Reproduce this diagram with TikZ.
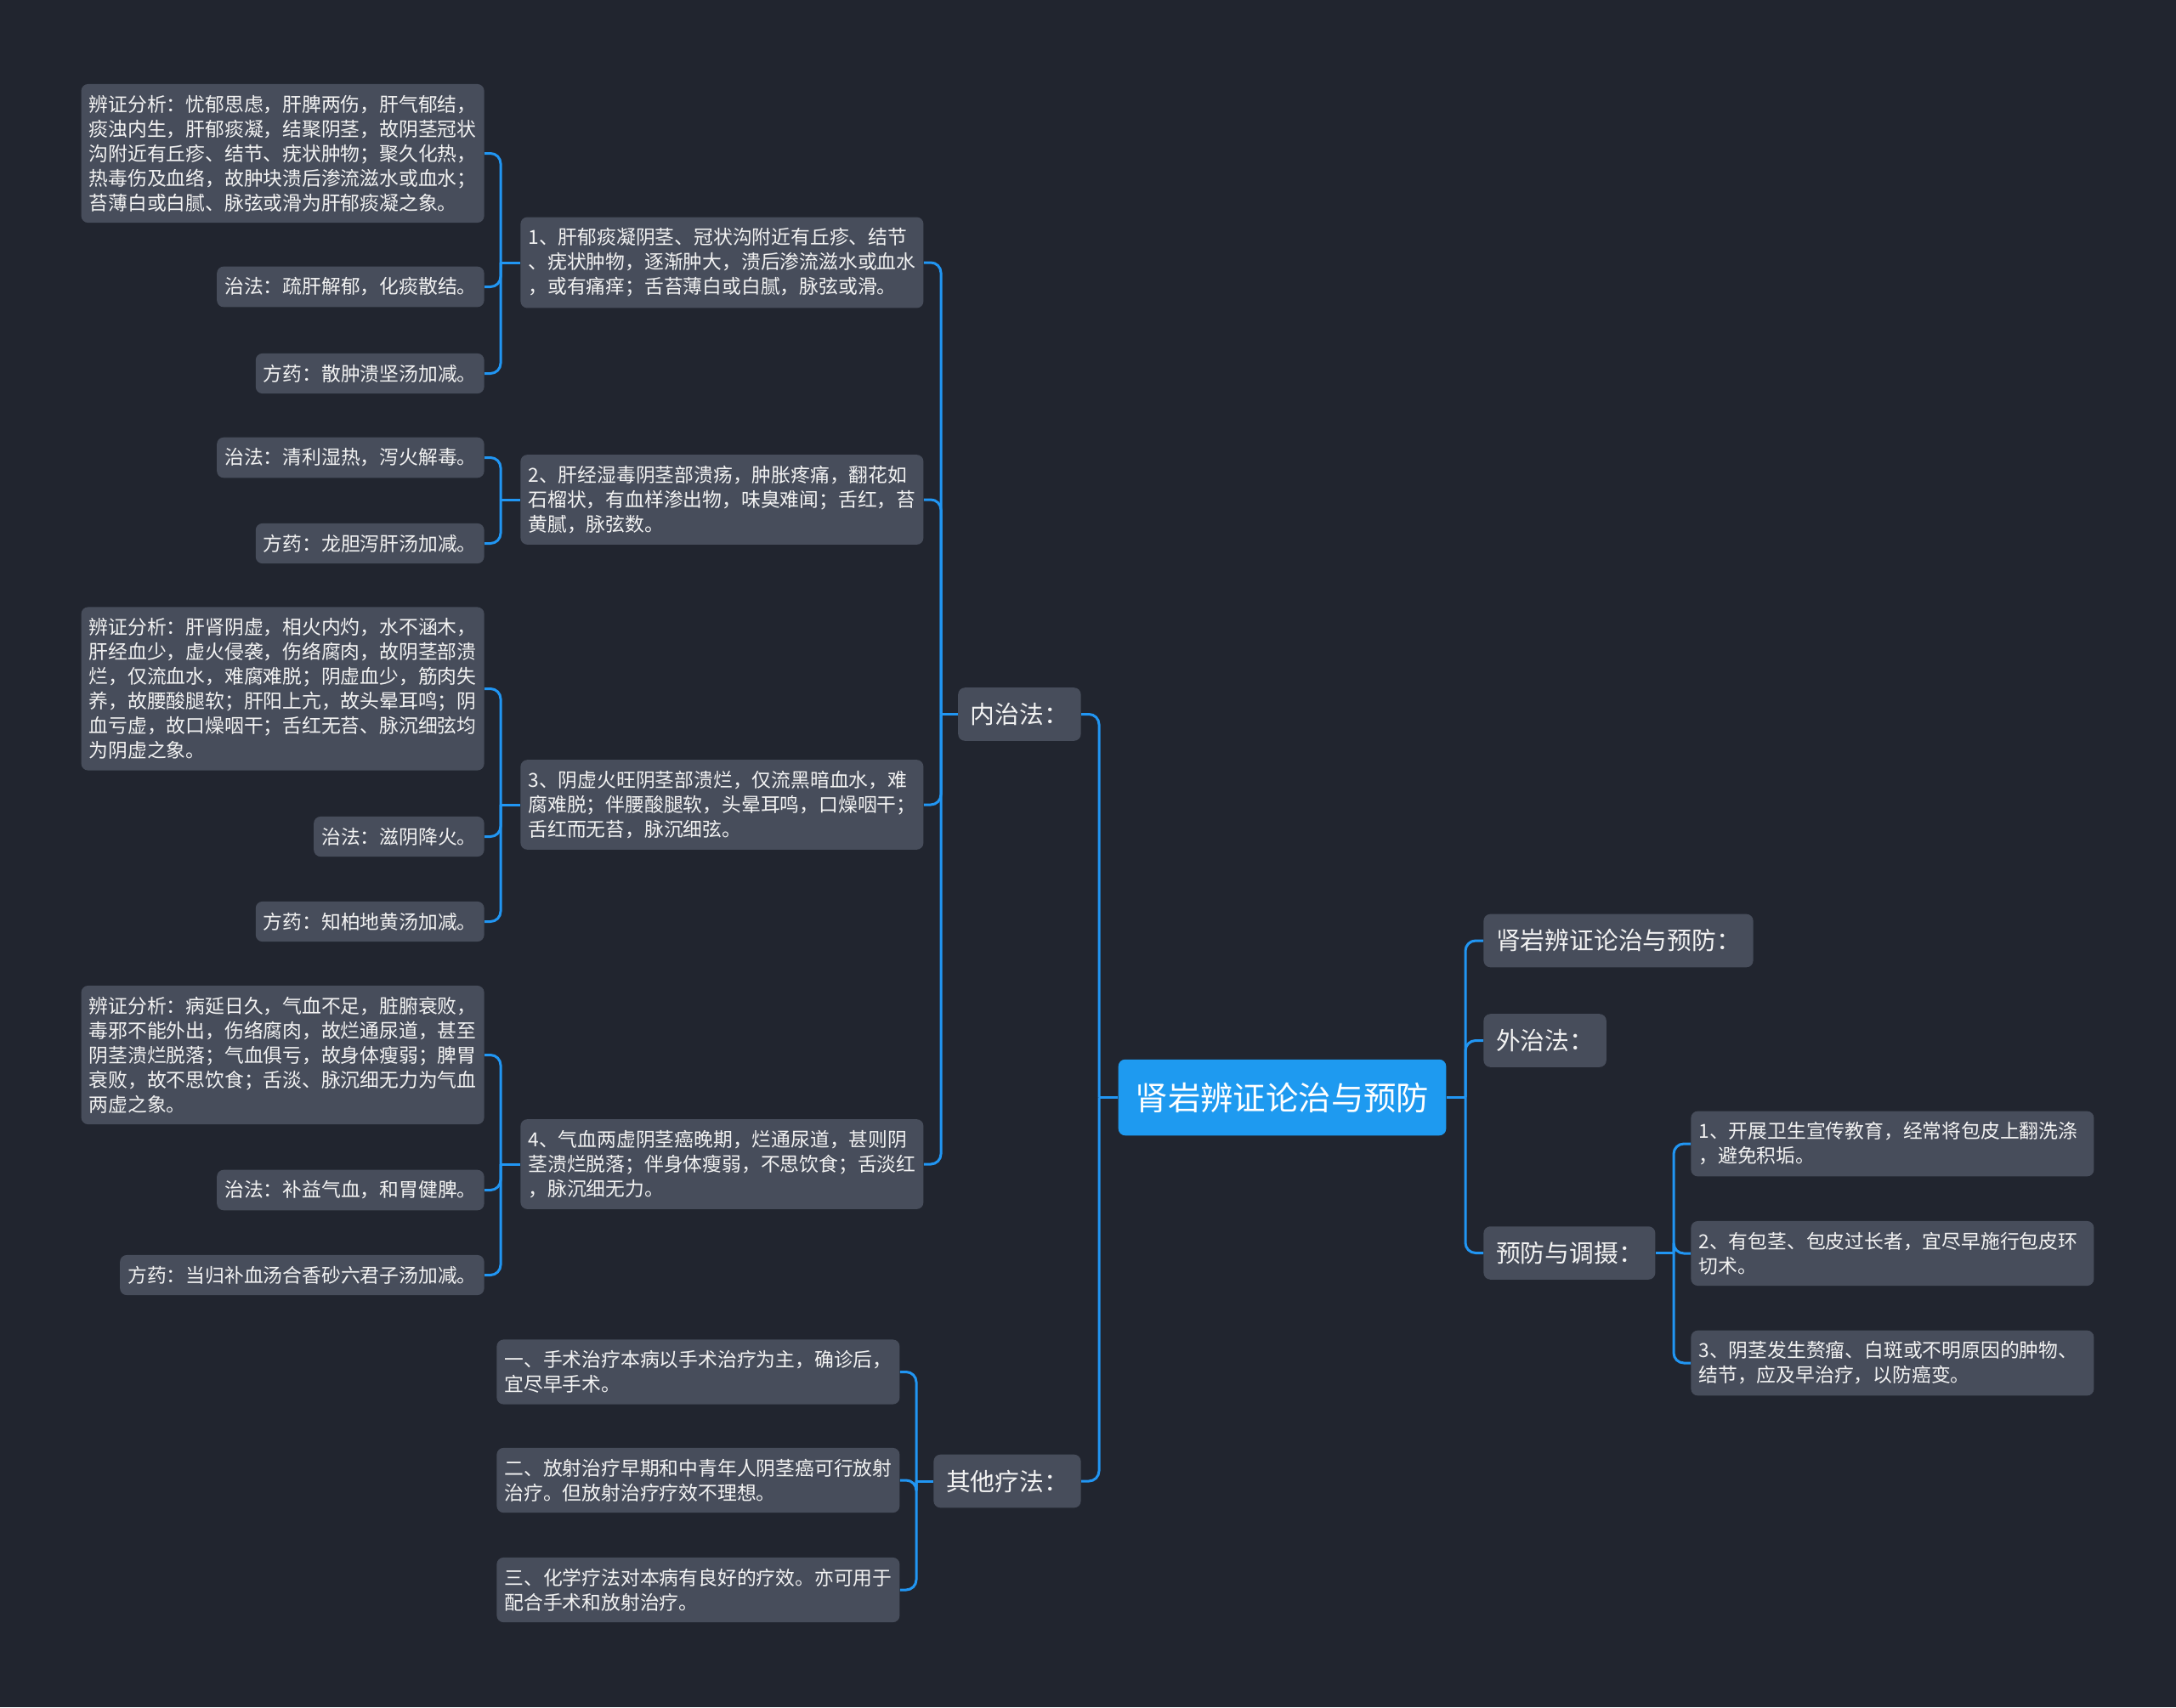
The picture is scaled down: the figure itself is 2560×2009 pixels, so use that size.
\documentclass[tikz,border=0pt]{standalone}
\usepackage{fontspec}
\setmainfont{Noto Sans CJK SC}
\definecolor{bgcol}{HTML}{21252F}
\definecolor{boxcol}{HTML}{474D5B}
\definecolor{rootcol}{HTML}{1E9AF0}
\definecolor{linecol}{HTML}{2196F3}
\definecolor{txtcol}{HTML}{F2F2F2}
\begin{document}
\begin{tikzpicture}[x=0.5pt, y=-0.5pt,
  leaf/.style={fill=boxcol, text=txtcol, rounded corners=4pt, inner xsep=4.5pt, inner ysep=6.5pt, align=left, font=\fontsize{11.4}{14.5}\selectfont},
  wide/.style={leaf, text width=228pt},
  branch/.style={fill=boxcol, text=txtcol, rounded corners=4pt, inner xsep=7.3pt, inner ysep=9pt, font=\fontsize{14.4}{17}\selectfont},
  root/.style={fill=rootcol, text=white, rounded corners=4pt, inner xsep=10pt, inner ysep=13.5pt, font=\fontsize{19.2}{22}\selectfont},
  link/.style={draw=linecol, line width=1.5pt, rounded corners=6pt}]
\fill[bgcol] (0,0) rectangle (2560,2009);
\useasboundingbox (0,0) rectangle (2560,2009);
% centre and first level
\node[root] (root) at (1508.5,1291.5) {肾岩辨证论治与预防};
\node[branch, anchor=east] (nei) at (1272,840.5) {内治法：};
\node[branch, anchor=east] (qita) at (1272,1743) {其他疗法：};
\node[branch, anchor=west] (bian) at (1745,1107) {肾岩辨证论治与预防：};
\node[branch, anchor=west] (wai) at (1745,1224.5) {外治法：};
\node[branch, anchor=west] (yufang) at (1745,1474.5) {预防与调摄：};
% 内治法
\node[wide, anchor=west] (n1) at (612,309) {1、肝郁痰凝阴茎、冠状沟附近有丘疹、结节\\、疣状肿物，逐渐肿大，溃后渗流滋水或血水\\，或有痛痒；舌苔薄白或白腻，脉弦或滑。};
\node[wide, anchor=west] (n2) at (612,588) {2、肝经湿毒阴茎部溃疡，肿胀疼痛，翻花如\\石榴状，有血样渗出物，味臭难闻；舌红，苔\\黄腻，脉弦数。};
\node[wide, anchor=west] (n3) at (612,947) {3、阴虚火旺阴茎部溃烂，仅流黑暗血水，难\\腐难脱；伴腰酸腿软，头晕耳鸣，口燥咽干；\\舌红而无苔，脉沉细弦。};
\node[wide, anchor=west] (n4) at (612,1370) {4、气血两虚阴茎癌晚期，烂通尿道，甚则阴\\茎溃烂脱落；伴身体瘦弱，不思饮食；舌淡红\\，脉沉细无力。};
\node[wide, anchor=east] (a1) at (570,180.5) {辨证分析：忧郁思虑，肝脾两伤，肝气郁结，\\痰浊内生，肝郁痰凝，结聚阴茎，故阴茎冠状\\沟附近有丘疹、结节、疣状肿物；聚久化热，\\热毒伤及血络，故肿块溃后渗流滋水或血水；\\苔薄白或白腻、脉弦或滑为肝郁痰凝之象。};
\node[leaf, anchor=east] (z1) at (570,337.5) {治法：疏肝解郁，化痰散结。};
\node[leaf, anchor=east] (f1) at (570,439.5) {方药：散肿溃坚汤加减。};
\node[leaf, anchor=east] (z2) at (570,538.5) {治法：清利湿热，泻火解毒。};
\node[leaf, anchor=east] (f2) at (570,639.5) {方药：龙胆泻肝汤加减。};
\node[wide, anchor=east] (a3) at (570,810.5) {辨证分析：肝肾阴虚，相火内灼，水不涵木，\\肝经血少，虚火侵袭，伤络腐肉，故阴茎部溃\\烂，仅流血水，难腐难脱；阴虚血少，筋肉失\\养，故腰酸腿软；肝阳上亢，故头晕耳鸣；阴\\血亏虚，故口燥咽干；舌红无苔、脉沉细弦均\\为阴虚之象。};
\node[leaf, anchor=east] (z3) at (570,984.5) {治法：滋阴降火。};
\node[leaf, anchor=east] (f3) at (570,1084.5) {方药：知柏地黄汤加减。};
\node[wide, anchor=east] (a4) at (570,1241.5) {辨证分析：病延日久，气血不足，脏腑衰败，\\毒邪不能外出，伤络腐肉，故烂通尿道，甚至\\阴茎溃烂脱落；气血俱亏，故身体瘦弱；脾胃\\衰败，故不思饮食；舌淡、脉沉细无力为气血\\两虚之象。};
\node[leaf, anchor=east] (z4) at (570,1400.5) {治法：补益气血，和胃健脾。};
\node[leaf, anchor=east] (f4) at (570,1500.5) {方药：当归补血汤合香砂六君子汤加减。};
% 其他疗法
\node[wide, anchor=west] (o1) at (584,1614.5) {一、手术治疗本病以手术治疗为主，确诊后，\\宜尽早手术。};
\node[wide, anchor=west] (o2) at (584,1742) {二、放射治疗早期和中青年人阴茎癌可行放射\\治疗。但放射治疗疗效不理想。};
\node[wide, anchor=west] (o3) at (584,1871) {三、化学疗法对本病有良好的疗效。亦可用于\\配合手术和放射治疗。};
% 预防与调摄
\node[wide, anchor=west] (p1) at (1989,1346) {1、开展卫生宣传教育，经常将包皮上翻洗涤\\，避免积垢。};
\node[wide, anchor=west] (p2) at (1989,1475) {2、有包茎、包皮过长者，宜尽早施行包皮环\\切术。};
\node[wide, anchor=west] (p3) at (1989,1604) {3、阴茎发生赘瘤、白斑或不明原因的肿物、\\结节，应及早治疗，以防癌变。};
% junctions
\coordinate (rootL) at (1293,1291.5);
\coordinate (rootR) at (1724,1291.5);
\coordinate (neiT) at (1107,840.5);
\coordinate (qitaT) at (1078,1743);
\coordinate (yufangT) at (1969,1474.5);
\coordinate (n1T) at (589,309);
\coordinate (n2T) at (589,588);
\coordinate (n3T) at (589,947);
\coordinate (n4T) at (589,1370);
% connectors
\draw[link] (root.west) -- (rootL);
\foreach \c in {nei,qita} \draw[link] (rootL) |- (\c.east);
\draw[link] (root.east) -- (rootR);
\foreach \c in {bian,wai,yufang} \draw[link] (rootR) |- (\c.west);
\draw[link] (nei.west) -- (neiT);
\foreach \c in {n1,n2,n3,n4} \draw[link] (neiT) |- (\c.east);
\draw[link] (qita.west) -- (qitaT);
\foreach \c in {o1,o2,o3} \draw[link] (qitaT) |- (\c.east);
\draw[link] (yufang.east) -- (yufangT);
\foreach \c in {p1,p2,p3} \draw[link] (yufangT) |- (\c.west);
\draw[link] (n1.west) -- (n1T);
\foreach \c in {a1,z1,f1} \draw[link] (n1T) |- (\c.east);
\draw[link] (n2.west) -- (n2T);
\foreach \c in {z2,f2} \draw[link] (n2T) |- (\c.east);
\draw[link] (n3.west) -- (n3T);
\foreach \c in {a3,z3,f3} \draw[link] (n3T) |- (\c.east);
\draw[link] (n4.west) -- (n4T);
\foreach \c in {a4,z4,f4} \draw[link] (n4T) |- (\c.east);
\end{tikzpicture}
\end{document}
